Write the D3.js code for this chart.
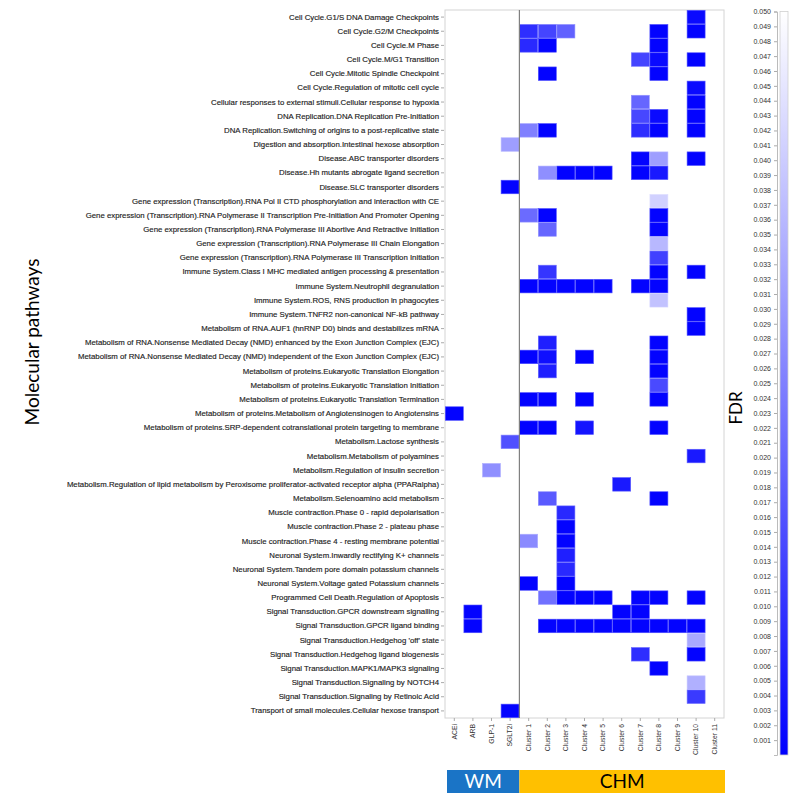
<!DOCTYPE html>
<html><head><meta charset="utf-8">
<script src="https://cdn.jsdelivr.net/npm/d3@7"></script>
<style>body{margin:0;background:#fff}svg{display:block}</style>
</head><body>
<svg id="chart" width="800" height="800"></svg>
<script>
const pathways = [
"Cell Cycle.G1/S DNA Damage Checkpoints",
"Cell Cycle.G2/M Checkpoints",
"Cell Cycle.M Phase",
"Cell Cycle.M/G1 Transition",
"Cell Cycle.Mitotic Spindle Checkpoint",
"Cell Cycle.Regulation of mitotic cell cycle",
"Cellular responses to external stimuli.Cellular response to hypoxia",
"DNA Replication.DNA Replication Pre-Initiation",
"DNA Replication.Switching of origins to a post-replicative state",
"Digestion and absorption.Intestinal hexose absorption",
"Disease.ABC transporter disorders",
"Disease.Hh mutants abrogate ligand secretion",
"Disease.SLC transporter disorders",
"Gene expression (Transcription).RNA Pol II CTD phosphorylation and interaction with CE",
"Gene expression (Transcription).RNA Polymerase II Transcription Pre-Initiation And Promoter Opening",
"Gene expression (Transcription).RNA Polymerase III Abortive And Retractive Initiation",
"Gene expression (Transcription).RNA Polymerase III Chain Elongation",
"Gene expression (Transcription).RNA Polymerase III Transcription Initiation",
"Immune System.Class I MHC mediated antigen processing & presentation",
"Immune System.Neutrophil degranulation",
"Immune System.ROS, RNS production in phagocytes",
"Immune System.TNFR2 non-canonical NF-kB pathway",
"Metabolism of RNA.AUF1 (hnRNP D0) binds and destabilizes mRNA",
"Metabolism of RNA.Nonsense Mediated Decay (NMD) enhanced by the Exon Junction Complex (EJC)",
"Metabolism of RNA.Nonsense Mediated Decay (NMD) independent of the Exon Junction Complex (EJC)",
"Metabolism of proteins.Eukaryotic Translation Elongation",
"Metabolism of proteins.Eukaryotic Translation Initiation",
"Metabolism of proteins.Eukaryotic Translation Termination",
"Metabolism of proteins.Metabolism of Angiotensinogen to Angiotensins",
"Metabolism of proteins.SRP-dependent cotranslational protein targeting to membrane",
"Metabolism.Lactose synthesis",
"Metabolism.Metabolism of polyamines",
"Metabolism.Regulation of insulin secretion",
"Metabolism.Regulation of lipid metabolism by Peroxisome proliferator-activated receptor alpha (PPARalpha)",
"Metabolism.Selenoamino acid metabolism",
"Muscle contraction.Phase 0 - rapid depolarisation",
"Muscle contraction.Phase 2 - plateau phase",
"Muscle contraction.Phase 4 - resting membrane potential",
"Neuronal System.Inwardly rectifying K+ channels",
"Neuronal System.Tandem pore domain potassium channels",
"Neuronal System.Voltage gated Potassium channels",
"Programmed Cell Death.Regulation of Apoptosis",
"Signal Transduction.GPCR downstream signalling",
"Signal Transduction.GPCR ligand binding",
"Signal Transduction.Hedgehog 'off' state",
"Signal Transduction.Hedgehog ligand biogenesis",
"Signal Transduction.MAPK1/MAPK3 signaling",
"Signal Transduction.Signaling by NOTCH4",
"Signal Transduction.Signaling by Retinoic Acid",
"Transport of small molecules.Cellular hexose transport"
];

const treatments = ["ACEi","ARB","GLP-1","SGLT2i","Cluster 1","Cluster 2","Cluster 3","Cluster 4","Cluster 5","Cluster 6","Cluster 7","Cluster 8","Cluster 9","Cluster 10","Cluster 11"];

const groupNames = ["WM","CHM"];
const groupSizes = [4, 11];

const fdrTicks = d3.range(1, 51).map(i => i / 1000);

// significant FDR values, one list per pathway (same order as pathways): [treatment, FDR]
const fdrValues = [
 [["Cluster 10",0.002]],
 [["Cluster 1",0.009],["Cluster 2",0.0135],["Cluster 3",0.019],["Cluster 8",0.0005],["Cluster 10",0.0005]],
 [["Cluster 1",0.008],["Cluster 2",0.0005],["Cluster 8",0.0005]],
 [["Cluster 7",0.0135],["Cluster 8",0.002],["Cluster 10",0.0005]],
 [["Cluster 2",0.0005],["Cluster 8",0.0005]],
 [["Cluster 10",0.002]],
 [["Cluster 7",0.02],["Cluster 10",0.0005]],
 [["Cluster 7",0.014],["Cluster 8",0.002],["Cluster 10",0.0005]],
 [["Cluster 1",0.025],["Cluster 2",0.0005],["Cluster 7",0.009],["Cluster 8",0.0005],["Cluster 10",0.0005]],
 [["SGLT2i",0.031]],
 [["Cluster 7",0.0005],["Cluster 8",0.031],["Cluster 10",0.0005]],
 [["Cluster 2",0.028],["Cluster 3",0.0005],["Cluster 4",0.0005],["Cluster 5",0.0005],["Cluster 7",0.0005],["Cluster 8",0.005]],
 [["SGLT2i",0.0005]],
 [["Cluster 8",0.041]],
 [["Cluster 1",0.021],["Cluster 2",0.0005],["Cluster 8",0.0005]],
 [["Cluster 2",0.02],["Cluster 8",0.0005]],
 [["Cluster 8",0.036]],
 [["Cluster 8",0.0125]],
 [["Cluster 2",0.0104],["Cluster 8",0.0005],["Cluster 10",0.0005]],
 [["Cluster 1",0.0005],["Cluster 2",0.0005],["Cluster 3",0.0005],["Cluster 4",0.0005],["Cluster 5",0.0005],["Cluster 7",0.0005],["Cluster 8",0.0005]],
 [["Cluster 8",0.038]],
 [["Cluster 10",0.0005]],
 [["Cluster 10",0.0005]],
 [["Cluster 2",0.006],["Cluster 8",0.0005]],
 [["Cluster 1",0.0005],["Cluster 2",0.003],["Cluster 4",0.0005],["Cluster 8",0.0005]],
 [["Cluster 2",0.006],["Cluster 8",0.0005]],
 [["Cluster 8",0.0145]],
 [["Cluster 1",0.0005],["Cluster 2",0.0005],["Cluster 4",0.0005],["Cluster 8",0.0005]],
 [["ACEi",0.0005]],
 [["Cluster 1",0.0005],["Cluster 2",0.0005],["Cluster 4",0.004],["Cluster 8",0.0005]],
 [["SGLT2i",0.0157]],
 [["Cluster 10",0.005]],
 [["GLP-1",0.028]],
 [["Cluster 6",0.005]],
 [["Cluster 2",0.0176],["Cluster 8",0.0005]],
 [["Cluster 3",0.008]],
 [["Cluster 3",0.0005]],
 [["Cluster 1",0.027],["Cluster 3",0.0005]],
 [["Cluster 3",0.006]],
 [["Cluster 3",0.008]],
 [["Cluster 1",0.0005],["Cluster 3",0.0005]],
 [["Cluster 2",0.022],["Cluster 3",0.0005],["Cluster 4",0.0005],["Cluster 5",0.0005],["Cluster 7",0.0005],["Cluster 8",0.0005],["Cluster 10",0.0005]],
 [["ARB",0.0005],["Cluster 6",0.0005],["Cluster 7",0.0005]],
 [["ARB",0.0005],["Cluster 2",0.0005],["Cluster 3",0.0005],["Cluster 4",0.0005],["Cluster 5",0.0005],["Cluster 6",0.0005],["Cluster 7",0.0005],["Cluster 8",0.0005],["Cluster 9",0.0005],["Cluster 10",0.0005]],
 [["Cluster 10",0.033]],
 [["Cluster 7",0.009],["Cluster 10",0.0005]],
 [["Cluster 8",0.0005]],
 [["Cluster 10",0.0345]],
 [["Cluster 10",0.0114]],
 [["SGLT2i",0.0005]]
];

const cells = [];
fdrValues.forEach((row, i) => row.forEach(([t, v]) => cells.push({p: pathways[i], t, v})));

const svg = d3.select("#chart");
const x = d3.scaleBand().domain(treatments).range([445, 724]);
const y = d3.scaleBand().domain(pathways).range([10, 718]);
const color = d3.scaleLinear().domain([0, 0.05]).range(["#0000ff", "#ffffff"]);

// frame
svg.append("rect").attr("x", 445).attr("y", 10).attr("width", 279).attr("height", 708)
  .attr("fill", "#fff").attr("stroke", "#d4d4d4").attr("stroke-width", 1);

// cells
svg.append("g").selectAll("rect").data(cells).join("rect")
  .attr("x", d => x(d.t) + 0.3).attr("y", d => y(d.p) + 0.3)
  .attr("width", x.bandwidth() - 0.6).attr("height", y.bandwidth() - 0.6)
  .attr("fill", d => color(d.v))
  .attr("stroke", d => d3.interpolateRgb(color(d.v), "#ffffff")(0.3))
  .attr("stroke-width", 0.6);

// separator between groups
const sepX = x(treatments[groupSizes[0]]);
svg.append("line").attr("x1", sepX).attr("x2", sepX).attr("y1", 10).attr("y2", 718)
  .attr("stroke", "#808080").attr("stroke-width", 1.2);

// y axis
const yAxis = svg.append("g").attr("transform", "translate(444,0)")
  .call(d3.axisLeft(y).tickSize(3).tickPadding(2));
yAxis.select(".domain").remove();
yAxis.selectAll("line").attr("stroke", "#aaa");
yAxis.selectAll("text").attr("font-family", "Liberation Sans, Arial, sans-serif")
  .attr("font-size", 7.8).attr("fill", "#222")
  .attr("stroke", "#222").attr("stroke-width", 0.15);

// x axis
const xAxis = svg.append("g").attr("transform", "translate(0,718)")
  .call(d3.axisBottom(x).tickSize(3).tickPadding(2));
xAxis.select(".domain").remove();
xAxis.selectAll("line").attr("stroke", "#aaa");
xAxis.selectAll("text").attr("font-family", "Liberation Sans, Arial, sans-serif")
  .attr("font-size", 6.8).attr("fill", "#333")
  .attr("transform", "rotate(-90)").attr("text-anchor", "end")
  .attr("x", -6).attr("y", 0).attr("dy", "0.35em");

// y title
svg.append("text").attr("transform", "translate(39,342) rotate(-90)")
  .attr("text-anchor", "middle").attr("font-family", "Lato, Open Sans, sans-serif")
  .attr("font-size", 19).attr("fill", "#000").text("Molecular pathways");

// legend
const ly = d3.scaleLinear().domain([0, 0.05]).range([755, 11.5]);
const defs = svg.append("defs");
const grad = defs.append("linearGradient").attr("id", "fdrGrad")
  .attr("x1", 0).attr("y1", 1).attr("x2", 0).attr("y2", 0);
grad.selectAll("stop").data([0, 0.05]).join("stop")
  .attr("offset", d => d / 0.05).attr("stop-color", d => color(d));
svg.append("rect").attr("x", 780).attr("y", ly(0.05)).attr("width", 8)
  .attr("height", ly(0) - ly(0.05)).attr("fill", "url(#fdrGrad)")
  .attr("stroke", "#d0d0d0").attr("stroke-width", 0.8);
const lAxis = svg.append("g").attr("transform", "translate(777,0)")
  .call(d3.axisLeft(ly).tickValues(fdrTicks).tickFormat(d3.format(".3f")).tickSize(3).tickPadding(3));
lAxis.select(".domain").attr("stroke", "#bbb");
lAxis.selectAll("line").attr("stroke", "#aaa");
lAxis.selectAll("text").attr("font-family", "Liberation Sans, Arial, sans-serif")
  .attr("font-size", 7).attr("fill", "#333");

svg.append("text").attr("transform", "translate(742,408) rotate(-90)")
  .attr("text-anchor", "middle").attr("font-family", "Lato, Open Sans, sans-serif")
  .attr("font-size", 17).attr("fill", "#000").text("FDR");

// group bars
const groupColors = ["#1a74c6", "#ffc000"];
const groupTextColors = ["#ffffff", "#000000"];
let start = 0;
groupNames.forEach((g, i) => {
  const x0 = i === 0 ? 447 : x(treatments[start]);
  const x1 = i === groupNames.length - 1 ? 725 : x(treatments[start + groupSizes[i]]);
  svg.append("rect").attr("x", x0).attr("y", 770).attr("width", x1 - x0).attr("height", 23)
    .attr("fill", groupColors[i]);
  svg.append("text").attr("x", (x0 + x1) / 2).attr("y", 788)
    .attr("text-anchor", "middle").attr("font-family", "Lato, Open Sans, sans-serif")
    .attr("font-size", 19).attr("fill", groupTextColors[i]).text(g);
  start += groupSizes[i];
});
</script>
</body></html>
